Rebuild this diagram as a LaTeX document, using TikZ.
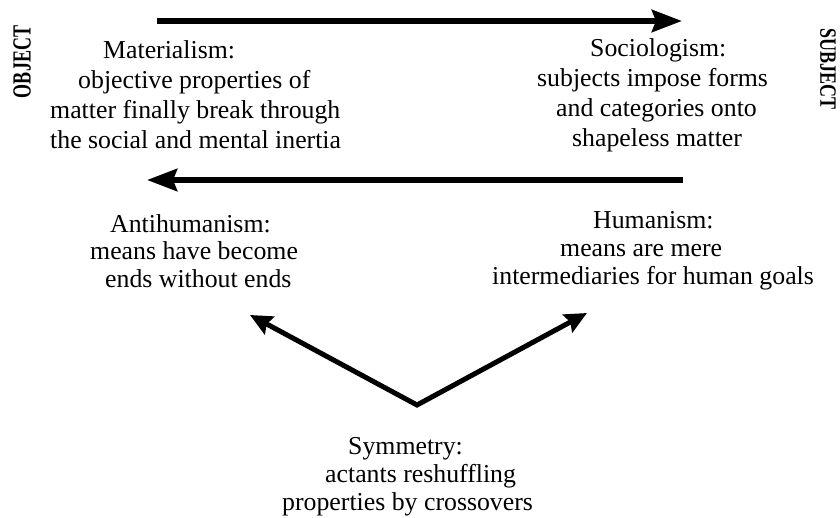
\documentclass[tikz,border=0pt]{standalone}
\usepackage{fontspec}
\setmainfont{Liberation Serif}
\usetikzlibrary{arrows.meta}
\begin{document}
\begin{tikzpicture}[x=1pt,y=-1pt,
  body/.style={anchor=west,inner sep=0pt,align=left,font=\fontsize{25.8}{30}\selectfont},
  lowbody/.style={body,font=\fontsize{25.8}{27.8}\selectfont},
  pole/.style={inner sep=0pt,font=\fontsize{18}{18}\selectfont\bfseries},
  flow/.style={line width=6pt,-{Stealth[length=30pt,width=22pt,inset=4pt]}},
  split/.style={line width=5pt,line join=miter,{Stealth[length=22pt,width=20pt,inset=3pt]}-{Stealth[length=22pt,width=20pt,inset=3pt]}}]
\useasboundingbox (0,0) rectangle (840,518);

% side labels
\node[pole,rotate=90] (obj) at (22,62) {\scalebox{1}[1.45]{OBJECT}};
\node[pole,rotate=-90] (subj) at (828,69) {\scalebox{1}[1.3]{SUBJECT}};

% upper pair
\node[body] (mat) at (50,95) {\hspace*{53pt}Materialism:\\
  \hspace*{28pt}objective properties of\\
  matter finally break through\\
  the social and mental inertia};
\node[body] (soc) at (537,95) {\hspace*{53pt}Sociologism:\\
  subjects impose forms\\
  \hspace*{19pt}and categories onto\\
  \hspace*{35pt}shapeless matter};

% lower pair
\node[lowbody] (anti) at (90,251) {\hspace*{20pt}Antihumanism:\\
  means have become\\
  \hspace*{15pt}ends without ends};
\node[lowbody] (hum) at (492,251) {\hspace*{101pt}Humanism:\\
  \hspace*{68pt}means are mere\\
  intermediaries for human goals};

% bottom label
\node[lowbody] (sym) at (282,477) {\hspace*{66pt}Symmetry:\\
  \hspace*{43pt}actants reshuffling\\
  properties by crossovers};

% horizontal arrows
\coordinate (t1) at (157,21);
\coordinate (t2) at (682,21);
\coordinate (b1) at (683,180);
\coordinate (b2) at (147,180);
\draw[flow] (t1) -- (t2);
\draw[flow] (b1) -- (b2);

% branching arrow
\coordinate (vl) at (250,315);
\coordinate (v) at (417,405);
\coordinate (vr) at (587,313);
\draw[split] (vl) -- (v) -- (vr);
\end{tikzpicture}
\end{document}
